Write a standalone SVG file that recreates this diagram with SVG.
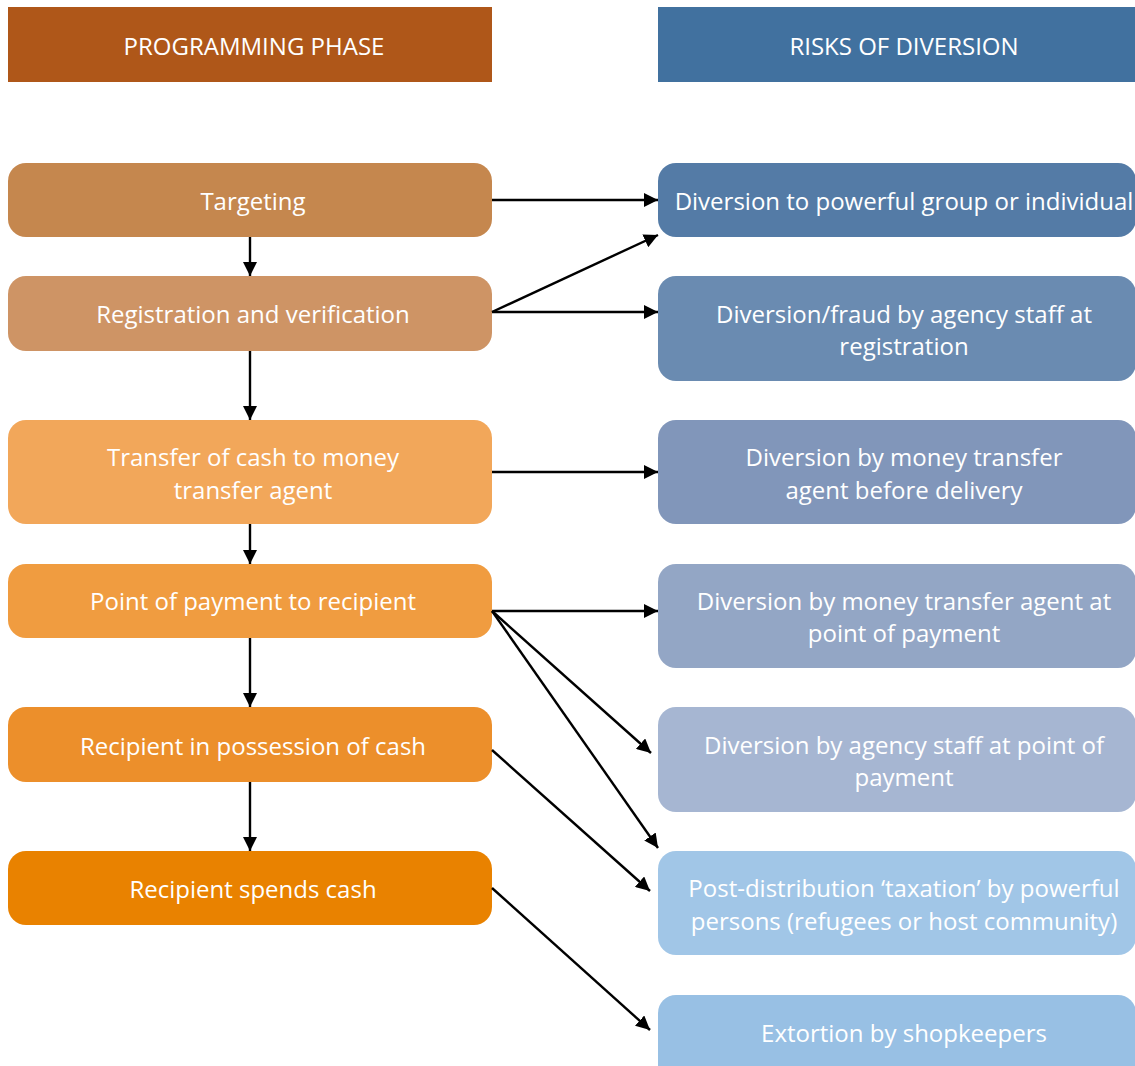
<svg xmlns="http://www.w3.org/2000/svg" width="1135" height="1066" viewBox="0 0 1135 1066">
<style>
text{font-family:"Open Sans","Liberation Sans",sans-serif;font-size:24px;fill:#fff;text-anchor:middle}
.c line{stroke:#000;stroke-width:2.4;marker-end:url(#ah)}
</style>
<defs>
<marker id="ah" viewBox="0 0 10 10" refX="10" refY="5" markerWidth="14" markerHeight="14" markerUnits="userSpaceOnUse" orient="auto"><path d="M0,0L10,5L0,10Z" fill="#000"/></marker>
</defs>
<rect width="1135" height="1066" fill="#fff"/>
<g id="h1"><rect x="8" y="7" width="484" height="75" fill="#AF5719"/><text x="254" y="55">PROGRAMMING PHASE</text></g>
<g id="h2"><rect x="658" y="7" width="477" height="75" fill="#41719F"/><text x="904" y="55">RISKS OF DIVERSION</text></g>

<g id="l1"><rect x="8" y="163" width="484" height="74" rx="18" fill="#C5874E"/><text x="253" y="210">Targeting</text></g>
<g id="l2"><rect x="8" y="276" width="484" height="75" rx="18" fill="#CE9465"/><text x="253" y="323">Registration and verification</text></g>
<g id="l3"><rect x="8" y="420" width="484" height="104" rx="18" fill="#F2A75A"/><text x="253" y="466">Transfer of cash to money</text><text x="253" y="499">transfer agent</text></g>
<g id="l4"><rect x="8" y="564" width="484" height="74" rx="18" fill="#F09C40"/><text x="253" y="610">Point of payment to recipient</text></g>
<g id="l5"><rect x="8" y="707" width="484" height="75" rx="18" fill="#EC8F2B"/><text x="253" y="755">Recipient in possession of cash</text></g>
<g id="l6"><rect x="8" y="851" width="484" height="74" rx="18" fill="#E98200"/><text x="253" y="898">Recipient spends cash</text></g>

<g id="r1"><rect x="658" y="163" width="478" height="74" rx="18" fill="#547BA6"/><text x="904" y="210">Diversion to powerful group or individual</text></g>
<g id="r2"><rect x="658" y="276" width="478" height="105" rx="18" fill="#6A8BB1"/><text x="904" y="323">Diversion/fraud by agency staff at</text><text x="904" y="355">registration</text></g>
<g id="r3"><rect x="658" y="420" width="478" height="104" rx="18" fill="#8196BA"/><text x="904" y="466">Diversion by money transfer</text><text x="904" y="499">agent before delivery</text></g>
<g id="r4"><rect x="658" y="564" width="478" height="104" rx="18" fill="#93A6C5"/><text x="904" y="610">Diversion by money transfer agent at</text><text x="904" y="642">point of payment</text></g>
<g id="r5"><rect x="658" y="707" width="478" height="105" rx="18" fill="#A6B6D2"/><text x="904" y="754">Diversion by agency staff at point of</text><text x="904" y="786">payment</text></g>
<g id="r6"><rect x="658" y="851" width="478" height="104" rx="18" fill="#A1C6E7"/><text x="904" y="897">Post-distribution ‘taxation’ by powerful</text><text x="904" y="930">persons (refugees or host community)</text></g>
<g id="r7"><rect x="658" y="995" width="478" height="100" rx="18" fill="#98C0E4"/><text x="904" y="1042">Extortion by shopkeepers</text></g>

<g class="c" id="connectors">
<line x1="492" y1="200" x2="658" y2="200"/>
<line x1="250" y1="237" x2="250" y2="276"/>
<line x1="492" y1="312" x2="658" y2="235"/>
<line x1="492" y1="312" x2="658" y2="312"/>
<line x1="250" y1="351" x2="250" y2="420"/>
<line x1="492" y1="472" x2="658" y2="472"/>
<line x1="250" y1="524" x2="250" y2="564"/>
<line x1="492" y1="611" x2="658" y2="611"/>
<line x1="492" y1="611" x2="651" y2="753"/>
<line x1="492" y1="611" x2="658" y2="848"/>
<line x1="250" y1="638" x2="250" y2="707"/>
<line x1="492" y1="750" x2="650" y2="891"/>
<line x1="250" y1="782" x2="250" y2="851"/>
<line x1="492" y1="888" x2="650" y2="1030"/>
</g>
</svg>
